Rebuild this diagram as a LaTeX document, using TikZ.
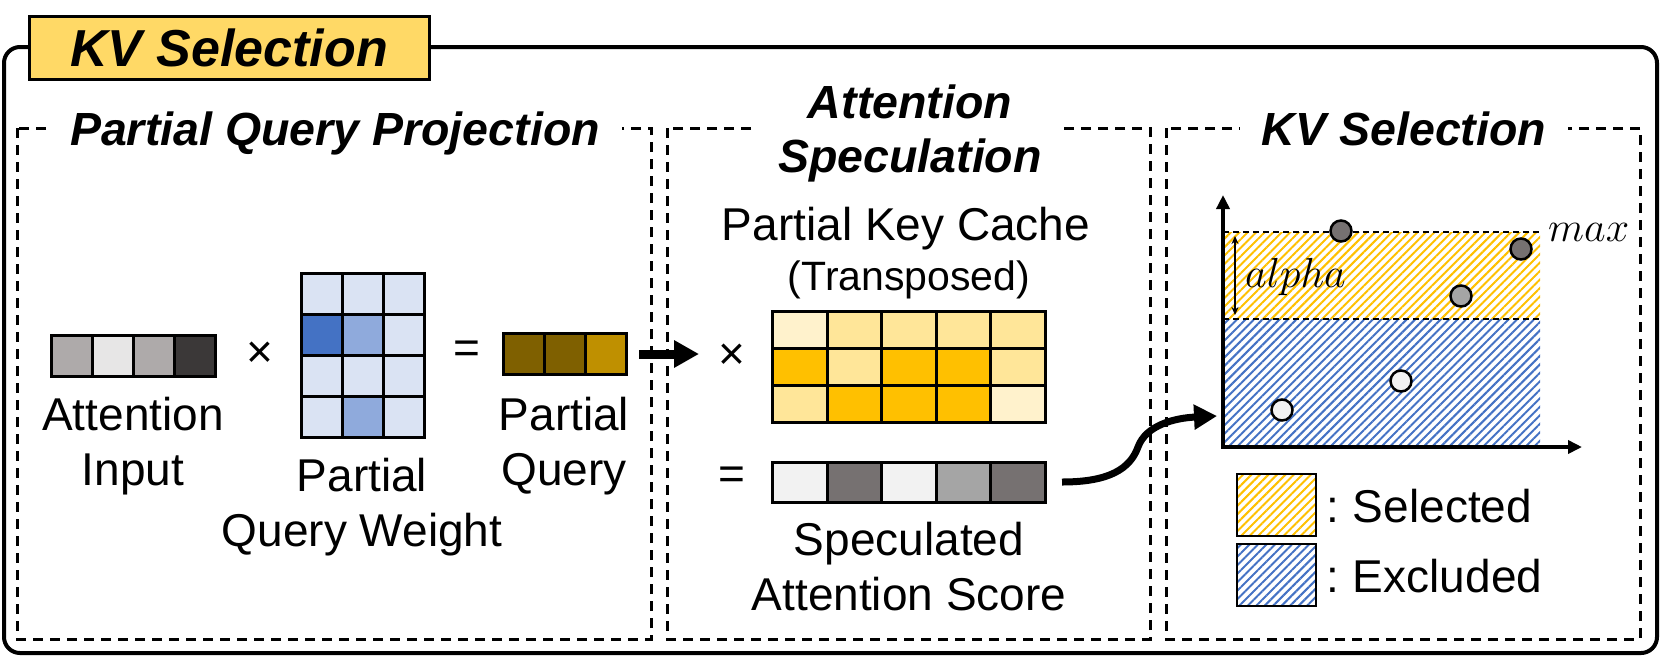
\documentclass[tikz,border=0pt]{standalone}
\usepackage{fix-cm}
\usepackage{fontspec}
\setmainfont{Liberation Sans}
\usepackage{tikz}
\usetikzlibrary{positioning,arrows.meta,patterns.meta}

\definecolor{titlebg}{HTML}{FFD966}
\definecolor{ingray}{HTML}{AEAAAA}
\definecolor{inlight}{HTML}{E7E6E6}
\definecolor{indark}{HTML}{3B3838}
\definecolor{wlight}{HTML}{DAE3F3}
\definecolor{wmid}{HTML}{8FAADC}
\definecolor{wdark}{HTML}{4472C4}
\definecolor{qdark}{HTML}{7F6000}
\definecolor{qmid}{HTML}{BF9000}
\definecolor{kpale}{HTML}{FFF2CC}
\definecolor{klight}{HTML}{FFE699}
\definecolor{kgold}{HTML}{FFC000}
\definecolor{spale}{HTML}{F2F2F2}
\definecolor{smid}{HTML}{A5A5A5}
\definecolor{sdark}{HTML}{767171}
\definecolor{selgold}{HTML}{FFC000}
\definecolor{exblue}{HTML}{4472C4}

\tikzset{
  cell/.style={draw, line width=3pt, inner sep=0, minimum width=41pt, minimum height=41pt},
  kcell/.style={cell, minimum width=54.6pt, minimum height=37pt},
  panel/.style={draw, line width=3pt, dash pattern=on 10pt off 7pt},
  ptitle/.style={font=\fontsize{46.5}{54}\selectfont\bfseries\itshape, fill=white, inner xsep=22pt, inner ysep=0, align=center, anchor=north},
  lbl/.style={font=\fontsize{46}{55}\selectfont, align=center, inner sep=0, anchor=north},
  sign/.style={font=\fontsize{46}{55}\selectfont, inner sep=0},
  selhatch/.style={pattern={Lines[angle=45,distance=6pt,line width=2pt]}, pattern color=selgold},
  exhatch/.style={pattern={Lines[angle=45,distance=6pt,line width=2pt]}, pattern color=exblue},
  guide/.style={line width=2pt, dash pattern=on 6pt off 4pt},
  axis/.style={line width=4pt, {Triangle[length=14pt,width=13pt]}-{Triangle[length=14pt,width=13pt]}},
  dot/.style={circle, draw, line width=2.5pt, minimum size=21pt, inner sep=0},
  legbox/.style={draw, line width=2pt, inner sep=0, minimum width=79pt, minimum height=62pt}
}

\begin{document}
\begin{tikzpicture}[x=1pt, y=-1pt]
  \useasboundingbox (0,0) rectangle (1661,657);

  \draw[line width=4pt, rounded corners=16pt] (4,47) rectangle (1657,653);
  \node[draw, line width=3pt, fill=titlebg, minimum width=400pt, minimum height=63pt, inner sep=0,
    font=\fontsize{52}{60}\selectfont\bfseries\itshape] (kvtitle) at (229,47.5) {KV Selection};

  \draw[panel] (17,128) rectangle (651,639);
  \draw[panel] (667,128) rectangle (1150,639);
  \draw[panel] (1166,128) rectangle (1640,639);
  \node[ptitle] (projtitle) at (335,112) {Partial Query Projection};
  \node[ptitle] (spectitle) at (910,85) {Attention\\Speculation};
  \node[ptitle] (seltitle) at (1404,112) {KV Selection};

  \foreach \col [count=\i] in {ingray,inlight,ingray,indark}
    \node[cell, fill=\col] (in\i) at ({51.5+41*(\i-0.5)},355.5) {};
  \foreach \row [count=\r] in {{wlight,wlight,wlight},{wdark,wmid,wlight},{wlight,wlight,wlight},{wlight,wmid,wlight}}
    \foreach \col [count=\k] in \row
      \node[cell, fill=\col] (w\r\k) at ({301.5+41*(\k-0.5)},{273.5+41*(\r-0.5)}) {};
  \foreach \col [count=\i] in {qdark,qdark,qmid}
    \node[cell, fill=\col] (q\i) at ({503.5+41*(\i-0.5)},354) {};

  \node[sign] (times1) at (260,355) {×};
  \node[sign] (eq1) at (467,352) {=};
  \node[lbl] (inlbl) at (133,397) {Attention\\Input};
  \node[lbl] (wlbl) at (362,458) {Partial\\Query Weight};
  \node[lbl] (qlbl) at (564,397) {Partial\\Query};

  \coordinate (arrtip) at (699,354);
  \draw[line width=9pt, -{Triangle[length=25pt,width=26pt]}, shorten <=11pt] (q3.east) -- (arrtip);

  \node[anchor=base, inner sep=0, font=\fontsize{46}{55}\selectfont] (klbl) at (906,240) {Partial Key Cache};
  \node[anchor=base, inner sep=0, font=\fontsize{41}{50}\selectfont] (ktlbl) at (909,290) {(Transposed)};
  \foreach \row [count=\r] in {{kpale,klight,klight,klight,klight},{kgold,klight,kgold,kgold,klight},{klight,kgold,kgold,kgold,kpale}}
    \foreach \col [count=\k] in \row
      \node[kcell, fill=\col] (k\r\k) at ({772.5+54.6*(\k-0.5)},{311.5+37*(\r-0.5)}) {};
  \foreach \col [count=\i] in {spale,sdark,spale,smid,sdark}
    \node[kcell, minimum height=40pt, fill=\col] (s\i) at ({772.5+54.6*(\i-0.5)},482) {};
  \node[sign] (times2) at (732,357) {×};
  \node[sign] (eq2) at (732,478) {=};
  \node[lbl] (slbl) at (909,522) {Speculated\\Attention Score};

  \coordinate (o) at (1223,447);
  \coordinate (ytop) at (1223,195);
  \coordinate (xend) at (1582,447);
  \fill[selhatch] (1223,232) rectangle (1540,319);
  \fill[exhatch] (1223,319) rectangle (1540,447);
  \draw[guide] (1223,232) -- (1540,232);
  \draw[guide] (1223,319) -- (1540,319);
  \draw[axis] (ytop) -- (o) -- (xend);

  \coordinate (amax) at (1235,236);
  \coordinate (amin) at (1235,315);
  \draw[line width=1.5pt, {Stealth[length=8pt,width=7pt]}-{Stealth[length=8pt,width=7pt]}] (amax) -- (amin);
  \node[anchor=base west, inner sep=0, font=\fontsize{42}{48}\selectfont] (alphalbl) at (1245,287) {$alpha$};
  \node[anchor=base west, inner sep=0, font=\fontsize{42}{48}\selectfont] (maxlbl) at (1548,241) {$max$};

  \node[dot, fill=sdark] (d1) at (1341,231) {};
  \node[dot, fill=sdark] (d2) at (1521,249) {};
  \node[dot, fill=smid] (d3) at (1461,296) {};
  \node[dot, fill=spale] (d4) at (1401,381) {};
  \node[dot, fill=spale] (d5) at (1282,410) {};

  \coordinate (bend) at (1138,447);
  \coordinate (ctip) at (1217,416);
  \draw[line width=7pt, -{Triangle[length=23pt,width=24pt]}, shorten <=15pt]
    (s5.east) .. controls +(62,0) and +(-8,22) .. (bend) .. controls +(8,-22) and +(-42,2) .. (ctip);

  \node[legbox, selhatch] (selbox) at (1276.5,505) {};
  \node[legbox, exhatch, below=6pt of selbox] (exbox) {};
  \node[anchor=base west, inner sep=0, font=\fontsize{46}{55}\selectfont] (sellbl) at (1326,522) {:\hspace{14pt}Selected};
  \node[anchor=base west, inner sep=0, font=\fontsize{46}{55}\selectfont] (exlbl) at (1326,592) {:\hspace{14pt}Excluded};
\end{tikzpicture}
\end{document}
